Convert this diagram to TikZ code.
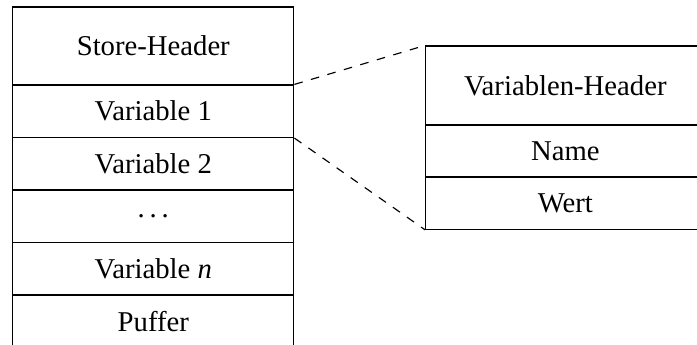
\documentclass[tikz,border=0pt]{standalone}
\usepackage{fontspec}
\setmainfont{Liberation Serif}
\begin{document}
\begin{tikzpicture}[x=1pt,y=-1pt,
  cell/.style={draw, line width=1.15pt, inner sep=0pt, minimum width=281pt,
    font=\fontsize{28.7}{34}\selectfont},
  rcell/.style={cell, minimum width=279.3pt},
  link/.style={line width=1.15pt, dash pattern=on 8.6pt off 8.6pt}]
\useasboundingbox (0,0) rectangle (697,345);
\node[cell, minimum height=78pt]   (sh) at (153.3,46) {Store-Header};
\node[cell, minimum height=52.5pt] (v1) at (153.3,111.25) {Variable 1};
\node[cell, minimum height=52.5pt] (v2) at (153.3,163.75) {Variable 2};
\node[cell, minimum height=52.5pt] (vd) at (153.3,216.25) {.\kern.167em.\kern.167em.};
\node[cell, minimum height=52.5pt] (vn) at (153.3,268.75) {Variable \textit{n}};
\node[cell, minimum height=52.5pt] (pf) at (153.3,321.25) {Puffer};
\node[rcell, minimum height=79pt]   (vh) at (565.35,85.5) {Variablen-Header};
\node[rcell, minimum height=52pt]   (nm) at (565.35,151) {Name};
\node[rcell, minimum height=52.3pt] (wt) at (565.35,203.15) {Wert};
\draw[link] (v1.north east) -- (vh.north west);
\draw[link] (v1.south east) -- (wt.south west);
\end{tikzpicture}
\end{document}
